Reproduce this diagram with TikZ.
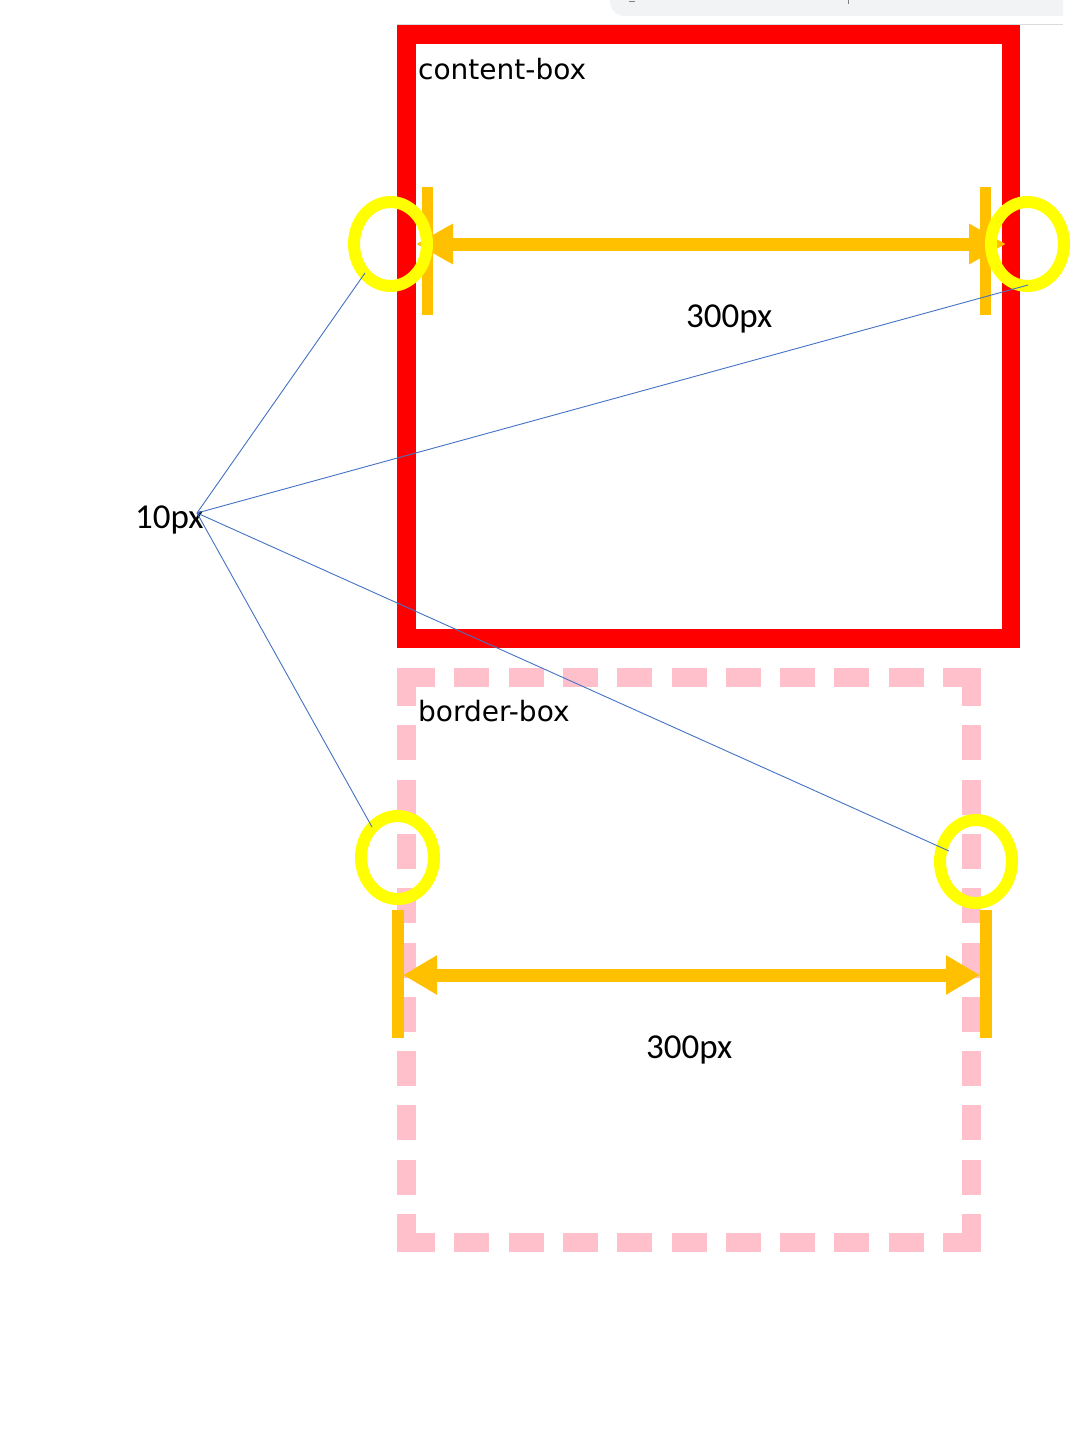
\documentclass[tikz,border=0pt]{standalone}
\usepackage{fontspec}
\usetikzlibrary{arrows.meta}
\newfontfamily\calfont{Carlito}
\newfontfamily\uifont{DejaVu Sans}
\definecolor{boxred}{HTML}{FF0000}
\definecolor{boxpink}{HTML}{FFC0CB}
\definecolor{dimorange}{HTML}{FFC000}
\definecolor{ringyellow}{HTML}{FFFF00}
\definecolor{leaderblue}{HTML}{4472C4}
\definecolor{tabgray}{HTML}{F1F3F4}
\definecolor{tabline}{HTML}{DADCE0}
\begin{document}
\begin{tikzpicture}[x=1pt, y=-1pt,
  dimline/.style={dimorange, line width=13pt},
  tickbar/.style={dimorange, line width=11.5pt},
  ring/.style={ringyellow, line width=12pt},
  leader/.style={leaderblue, line width=0.9pt},
  boxlabel/.style={anchor=base west, inner sep=0pt, font=\uifont\fontsize{28}{34}\selectfont},
  pxlabel/.style={anchor=base west, inner sep=0pt, font=\calfont\fontsize{35}{42}\selectfont},
  pinkdash/.style={boxpink, line width=19pt,
    dash pattern=on 57pt off 19.3pt on 35pt off 19.3pt on 35pt off 19.3pt on 35pt off 19.3pt
      on 35pt off 19.3pt on 35pt off 19.3pt on 35pt off 19.3pt on 35pt off 19.3pt
      on 35pt off 19.3pt on 35pt off 19.3pt,
    dash phase=311pt}]
  \useasboundingbox[fill=white] (0,0) rectangle (1071,1429);

  % Browser strip (top edge)
  \fill[tabgray] (610,-2) -- (1063,-2) -- (1063,16) -- (625,16) arc[start angle=90, end angle=180, radius=15] -- cycle;
  \draw[tabline, line width=1.5pt] (397,24.5) -- (1063,24.5);
  \draw[gray, line width=1pt] (629,2) -- (635,2);
  \draw[gray, line width=1pt] (848,0) -- (848,4);
  \draw[gray, line width=1pt] (963,0) arc[start angle=180, end angle=360, radius=4];

  % content-box (solid red)
  \draw[boxred, line width=18.5pt] (406.5,34.5) rectangle (1011,638.5);
  \node[boxlabel] (cbox) at (418,80) {content-box};

  % border-box (dashed pink)
  \draw[pinkdash] (689,677.5) -- (971.5,677.5) -- (971.5,1242.5) -- (406.5,1242.5) -- (406.5,677.5) -- cycle;
  \node[boxlabel] (bbox) at (418,721) {border-box};

  % Width dimension, content-box
  \coordinate (cl) at (416,244);
  \coordinate (cr) at (1006,244);
  \draw[tickbar] (427.5,187) -- (427.5,315);
  \draw[tickbar] (985.5,187) -- (985.5,315);
  \draw[dimline, {Triangle[length=37pt, width=38pt]}-{Triangle[length=37pt, width=38pt]}] (cl) -- (cr);
  \node[pxlabel] (cw) at (686,327) {300px};

  % Width dimension, border-box
  \coordinate (bl) at (403,975);
  \coordinate (br) at (980,975);
  \draw[tickbar, line width=12pt] (397.5,910) -- (397.5,1038);
  \draw[tickbar, line width=12pt] (985.5,910) -- (985.5,1038);
  \draw[dimline, {Triangle[length=34pt, width=37pt]}-{Triangle[length=34pt, width=37pt]}] (bl) -- (br);
  \node[pxlabel] (bw) at (646,1058) {300px};

  % Border edges marked
  \draw[ring] (390.5,244) ellipse[x radius=36.5, y radius=42];
  \draw[ring] (1027.5,244) ellipse[x radius=36.5, y radius=42];
  \draw[ring] (397.5,857.5) ellipse[x radius=36.5, y radius=41.5];
  \draw[ring] (976,861.5) ellipse[x radius=36, y radius=41.5];
  \coordinate (tlring) at (365,273);
  \coordinate (trring) at (1028,285);
  \coordinate (blring) at (372,827);
  \coordinate (brring) at (949,851);

  % Border width callout
  \node[pxlabel] (bwidth) at (135,528) {10px};
  \coordinate (hub) at (197,513);
  \draw[leader] (hub) -- (tlring);
  \draw[leader] (hub) -- (trring);
  \draw[leader] (hub) -- (blring);
  \draw[leader] (hub) -- (brring);

\end{tikzpicture}
\end{document}
